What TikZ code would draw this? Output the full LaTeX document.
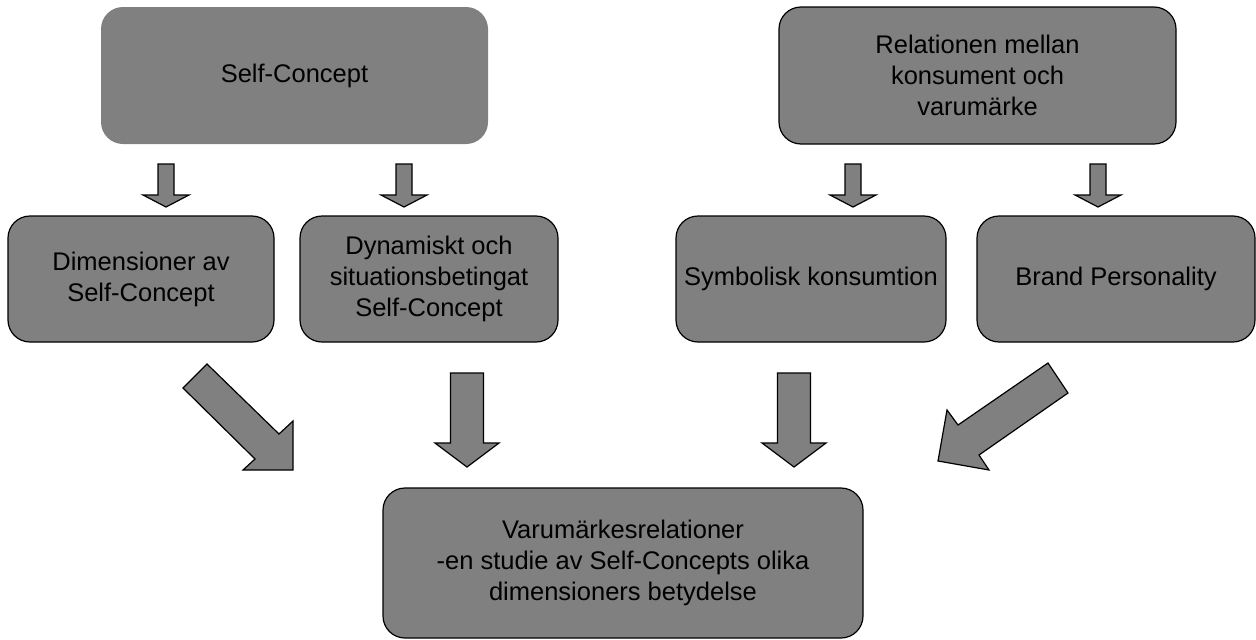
\documentclass[tikz,border=0pt]{standalone}
\usepackage{fontspec}
\setmainfont{Liberation Sans}
\definecolor{boxgray}{HTML}{808080}
\tikzset{
  card/.style={rectangle, rounded corners=22pt, fill=boxgray, draw=black, line width=1.2pt,
    inner sep=0pt, align=center, font=\fontsize{25.5}{31}\selectfont},
  blockarrow/.style={fill=boxgray, draw=black, line width=1.2pt, line join=miter}
}
\begin{document}
\begin{tikzpicture}[x=1pt,y=-1pt]
\useasboundingbox (0,0) rectangle (1256,640);
% boxes
\node[card, draw=none, minimum width=387pt, minimum height=137pt] (self) at (294.5,75.5) {Self-Concept};
\node[card, minimum width=397pt, minimum height=137pt] (rel) at (977.5,75.5) {Relationen mellan\\konsument och\\varumärke};
\node[card, minimum width=266pt, minimum height=126pt] (dim) at (141,279) {Dimensioner av\\Self-Concept};
\node[card, minimum width=258pt, minimum height=126pt] (dyn) at (429,279) {Dynamiskt och\\situationsbetingat\\Self-Concept};
\node[card, minimum width=270pt, minimum height=126pt] (sym) at (811,279) {Symbolisk konsumtion};
\node[card, minimum width=278pt, minimum height=126pt] (brand) at (1116,279) {Brand Personality};
\node[card, minimum width=480pt, minimum height=150pt] (res) at (623,563) {Varumärkesrelationer\\-en studie av Self-Concepts olika\\dimensioners betydelse};
% small block arrows
\foreach \c in {166,404,853,1098}{
  \filldraw[blockarrow] (\c-8,164) -- (\c+8,164) -- (\c+8,195) -- (\c+23,195) -- (\c,207) -- (\c-23,195) -- (\c-8,195) -- cycle;
}
% large vertical block arrows
\foreach \c in {467,794}{
  \filldraw[blockarrow] (\c-16.5,373) -- (\c+16.5,373) -- (\c+16.5,443) -- (\c+32,443) -- (\c,467) -- (\c-32,443) -- (\c-16.5,443) -- cycle;
}
% diagonal block arrows
\filldraw[blockarrow] (207,364) -- (279,434) -- (293,421) -- (293,470) -- (243,470) -- (255,459) -- (183,388) -- cycle;
\filldraw[blockarrow] (1048,363) -- (1068,393) -- (979,455) -- (989,470) -- (938,461) -- (947,410) -- (958,425) -- cycle;
\end{tikzpicture}
\end{document}
